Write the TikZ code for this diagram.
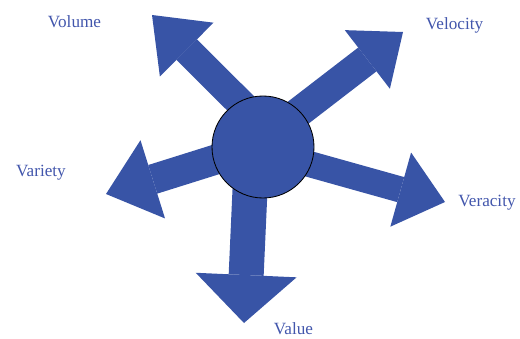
\documentclass[tikz,border=0pt]{standalone}
\usepackage{fontspec}
\setmainfont{Liberation Serif}
\definecolor{vblue}{RGB}{56, 84, 166}
\definecolor{vtext}{RGB}{66, 86, 172}
\usetikzlibrary{arrows.meta, backgrounds}

\begin{document}
\begin{tikzpicture}[
  hub/.style={circle, draw=black, line width=0.6pt, fill=vblue, minimum size=2.55cm, inner sep=0pt},
  spoke/.style 2 args={draw=vblue, shorten <=-0.35cm, -{Triangle[length=#1, width=#2, line width=0pt]}},
  vlabel/.style={text=vtext, inner sep=0pt, font=\fontsize{12.2}{14}\selectfont}
]
  \useasboundingbox (0,0) rectangle (13,8.45);

  \node[hub] (hub) at (6.575, 4.775) {};

  % arrow tips
  \coordinate (volTip) at (3.8, 8.075);
  \coordinate (velTip) at (10.075, 7.65);
  \coordinate (varTip) at (2.65, 3.6);
  \coordinate (verTip) at (11.125, 3.4);
  \coordinate (valTip) at (6.1, 0.375);

  \begin{scope}[on background layer]
    \draw[spoke={1.225cm}{1.9cm}, line width=0.725cm] (hub.118) -- (volTip);
    \draw[spoke={1.125cm}{1.85cm}, line width=0.75cm] (hub.44) -- (velTip);
    \draw[spoke={1.225cm}{2.05cm}, line width=0.75cm] (hub.195) -- (varTip);
    \draw[spoke={1.15cm}{1.925cm}, line width=0.65cm] (hub.340) -- (verTip);
    \draw[spoke={1.2cm}{2.525cm}, line width=0.875cm] (hub.255) -- (valTip);
  \end{scope}

  % labels
  \node[vlabel] (volume) at (1.8625, 7.9) {Volume};
  \node[vlabel] (velocity) at (11.3625, 7.825) {Velocity};
  \node[vlabel] (variety) at (1.025, 4.125) {Variety};
  \node[vlabel] (veracity) at (12.175, 3.375) {Veracity};
  \node[vlabel] (value) at (7.3375, 0.225) {Value};
\end{tikzpicture}
\end{document}
